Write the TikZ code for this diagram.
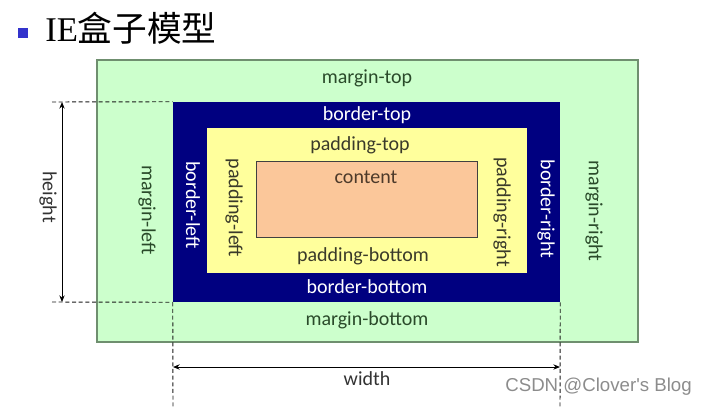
\documentclass[tikz,border=0pt]{standalone}
\usepackage{fontspec}
\setmainfont{Carlito}
\newfontfamily\cjkfont{Noto Sans CJK SC}
\newfontfamily\titlefont{Liberation Serif}
\newfontfamily\markfont{Liberation Sans}
\usetikzlibrary{arrows.meta, fit}

\definecolor{marginfill}{HTML}{CCFFCC}
\definecolor{margindraw}{HTML}{6F8F6F}
\definecolor{bordernavy}{HTML}{000080}
\definecolor{paddingfill}{HTML}{FFFF9C}
\definecolor{contentfill}{HTML}{FBC79A}
\definecolor{margintext}{HTML}{2A4A2A}
\definecolor{paddingtext}{HTML}{3A3A2A}
\definecolor{contenttext}{HTML}{4D3A2A}
\definecolor{titleblue}{HTML}{3333CC}

\begin{document}
\begin{tikzpicture}[x=0.75pt, y=-0.75pt,
    box/.style={rectangle, inner sep=0pt},
    lbl/.style={font=\fontsize{15}{18}\selectfont, inner sep=0pt},
    dimline/.style={densely dashed, black!90, line width=0.7pt},
    dimarrow/.style={{Stealth[length=5pt,width=4pt]}-{Stealth[length=5pt,width=4pt]}, line width=0.7pt}]
    \useasboundingbox (0,0) rectangle (706,407);

    % --- title ---
    \node[fill=titleblue, minimum size=8pt, inner sep=0pt] (bullet) at (23,33) {};
    \node[anchor=base west, inner sep=0pt, font=\fontsize{26}{29}\selectfont] (title) at (45,41)
      {\titlefont IE\cjkfont 盒子模型};

    % --- nested boxes: margin, border, padding, content ---
    \node[box, fill=marginfill, draw=margindraw, line width=0.9pt, fit={(97,60) (638,342)}] (margin) {};
    \node[box, fill=bordernavy, fit={(173,102) (560,302)}] (border) {};
    \node[box, fill=paddingfill, fit={(207,128) (527,273)}] (padding) {};
    \node[box, fill=contentfill, draw=black!75, line width=0.7pt, fit={(256,161) (477,237)}] (content) {};

    % --- horizontal labels ---
    \node[lbl, text=margintext] (mtop) at (367,78) {margin-top};
    \node[lbl, text=white] (btop) at (367,115) {border-top};
    \node[lbl, text=paddingtext] (ptop) at (360,145) {padding-top};
    \node[lbl, text=contenttext] (ctext) at (366,177) {content};
    \node[lbl, text=paddingtext] (pbottom) at (363,256) {padding-bottom};
    \node[lbl, text=white] (bbottom) at (367,287) {border-bottom};
    \node[lbl, text=margintext] (mbottom) at (367,320) {margin-bottom};

    % --- vertical labels: (x, y, colour, name, text) ---
    \foreach \x/\y/\c/\n/\t in {%
      147/210/margintext/mleft/margin-left, 193/205/white/bleft/border-left,
      234/208/paddingtext/pleft/padding-left, 502/212/paddingtext/pright/padding-right,
      546/209/white/bright/border-right, 594/211/margintext/mright/margin-right}{
      \node[lbl, text=\c, rotate=-90] (\n) at (\x,\y) {\t};
    }

    % --- watermark ---
    \node[anchor=east, inner sep=0pt, text=black!45, font=\markfont\fontsize{14}{16}\selectfont] (mark)
      at (692,387) {CSDN @Clover's Blog};

    % --- height dimension ---
    \coordinate (hguidetop) at (52,102);
    \coordinate (hguidebot) at (52,302);
    \coordinate (htop) at (62,102);
    \coordinate (hbot) at (62,302);
    \draw[dimline] (hguidetop) -- (border.north west);
    \draw[dimline] (hguidebot) -- (border.south west);
    \draw[dimarrow] (htop) -- (hbot);
    \node[lbl, text=black!80, rotate=-90] (hlabel) at (48,197) {height};

    % --- width dimension ---
    \coordinate (wguideleft) at (173,407);
    \coordinate (wguideright) at (560,407);
    \coordinate (wleft) at (173,367);
    \coordinate (wright) at (560,367);
    \draw[dimline] (border.south west) -- (wguideleft);
    \draw[dimline] (border.south east) -- (wguideright);
    \draw[dimarrow] (wleft) -- (wright);
    \node[lbl, text=black!80] (wlabel) at (367,379) {width};
\end{tikzpicture}
\end{document}
